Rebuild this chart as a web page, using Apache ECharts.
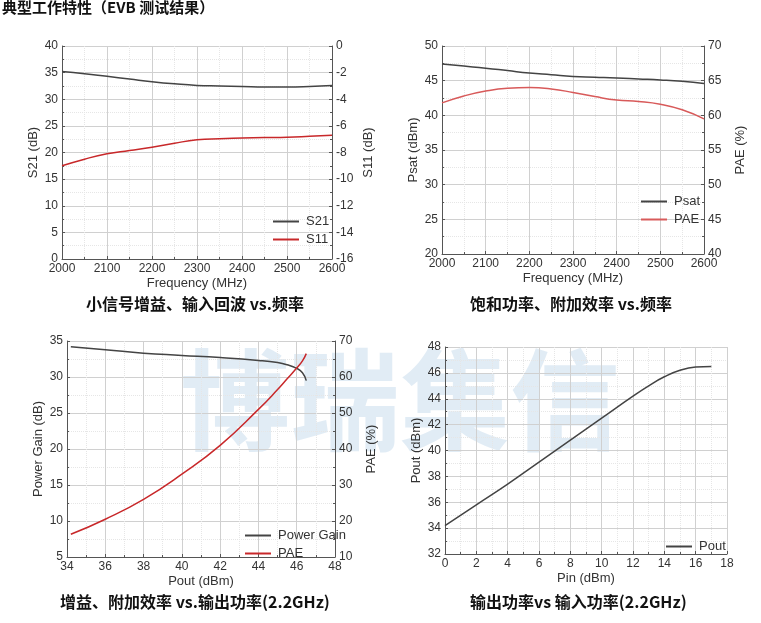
<!DOCTYPE html>
<html><head><meta charset="utf-8">
<script src="https://cdn.jsdelivr.net/npm/echarts@6/dist/echarts.min.js"></script>
<style>html,body{margin:0;background:#fff}#main{width:761px;height:623px}</style>
</head><body><div id="main"></div>
<script>
// panel 1: small signal
var freq = [2000, 2050, 2100, 2150, 2200, 2250, 2300, 2350, 2400, 2450, 2500, 2550, 2600];
var s21 = [35.2, 34.8, 34.3, 33.8, 33.3, 32.9, 32.6, 32.5, 32.4, 32.3, 32.3, 32.4, 32.6];
var s11 = [-9.0, -8.5, -8.1, -7.85, -7.6, -7.3, -7.05, -6.96, -6.92, -6.88, -6.85, -6.78, -6.7];
// panel 2: saturation
var psat = [47.4, 47.1, 46.8, 46.45, 46.1, 45.85, 45.6, 45.5, 45.4, 45.25, 45.1, 44.9, 44.6];
var pae1 = [61.8, 62.8, 63.5, 63.9, 64.0, 63.8, 63.3, 62.7, 62.2, 62.0, 61.6, 60.8, 59.5];
// panel 3: vs output power
var pout3 = [34.2, 36, 38, 40, 42, 44, 45, 45.5, 46, 46.3, 46.5];
var gain3 = [34.2, 33.8, 33.3, 33.0, 32.7, 32.3, 32.0, 31.7, 31.2, 30.6, 29.5];
var pae3 = [16.3, 20.5, 26, 33, 41, 51, 56.5, 59.5, 62.5, 64.5, 66.5];
// panel 4: Pout vs Pin
var pin4 = [0, 2, 4, 6, 8, 10, 12, 13, 14, 15, 16, 17];
var pout4 = [34.2, 35.8, 37.4, 39.1, 40.8, 42.5, 44.2, 45.0, 45.7, 46.2, 46.45, 46.5];

function zip(a, b) { return a.map(function (v, i) { return [v, b[i]]; }); }

var F = 'Liberation Sans, Arial, sans-serif';
var BLACK = '#444', RED = '#c8282a', RED2 = '#d85a5a';
var lbl = { color: '#333', fontSize: 12, fontFamily: F, formatter: function (v) { return String(v); } };
var nameSty = { color: '#333', fontSize: 13, fontFamily: F };
var axLine = { lineStyle: { color: '#555' } };
var split = { show: true, lineStyle: { color: '#d0d0d0', type: 'solid' } };
var msplit = { show: true, lineStyle: { color: '#e6e6e6', type: 'dotted' } };

function xa(g, min, max, iv, name) {
  return { type: 'value', gridIndex: g, min: min, max: max, interval: iv, name: name,
    nameLocation: 'middle', nameGap: 18, nameTextStyle: nameSty, axisLabel: Object.assign({ margin: 4 }, lbl),
    axisLine: axLine, axisTick: { inside: true, length: 3 }, minorTick: { show: true, splitNumber: 2, length: 2 },
    splitLine: split, minorSplitLine: msplit };
}
function ya(g, min, max, iv, name, pos) {
  return { type: 'value', gridIndex: g, min: min, max: max, interval: iv, name: name, position: pos,
    nameLocation: 'middle', nameGap: pos === 'right' ? 30 : 22, nameTextStyle: nameSty,
    axisLabel: Object.assign({ margin: 4 }, lbl), axisLine: { show: true, lineStyle: { color: '#555' } },
    axisTick: { inside: true, length: 3 }, minorTick: { show: true, splitNumber: 2, length: 2 },
    splitLine: pos === 'right' ? { show: false } : split, minorSplitLine: pos === 'right' ? { show: false } : msplit };
}
function ln(name, x, y, data, color) {
  return { name: name, type: 'line', xAxisIndex: x, yAxisIndex: y, data: data, smooth: true,
    showSymbol: false, lineStyle: { color: color, width: 1.5 }, itemStyle: { color: color } };
}
function lg(names, left, top) {
  return { data: names, left: left, top: top, orient: 'vertical', itemWidth: 26, itemHeight: 2, itemGap: 5,
    icon: 'rect', textStyle: { color: '#333', fontSize: 13, fontFamily: F, padding: [0, 0, 0, 2] } };
}
function cap(text, x, y, size) {
  return { type: 'text', left: x, top: y, style: { text: text, fill: '#111', font: 'bold ' + size + 'px "Noto Sans CJK SC", serif' } };
}

var chart = echarts.init(document.getElementById('main'));
chart.setOption({
  animation: false,
  grid: [
    { left: 62, top: 46, width: 270, height: 213 },
    { left: 442, top: 46, width: 262, height: 208 },
    { left: 67, top: 341, width: 268, height: 216 },
    { left: 445, top: 347, width: 282, height: 207 }
  ],
  xAxis: [
    xa(0, 2000, 2600, 100, 'Frequency (MHz)'),
    xa(1, 2000, 2600, 100, 'Frequency (MHz)'),
    xa(2, 34, 48, 2, 'Pout (dBm)'),
    xa(3, 0, 18, 2, 'Pin (dBm)')
  ],
  yAxis: [
    ya(0, 0, 40, 5, 'S21 (dB)', 'left'),
    ya(0, -16, 0, 2, 'S11 (dB)', 'right'),
    ya(1, 20, 50, 5, 'Psat (dBm)', 'left'),
    ya(1, 40, 70, 5, 'PAE (%)', 'right'),
    ya(2, 5, 35, 5, 'Power Gain (dB)', 'left'),
    ya(2, 10, 70, 10, 'PAE (%)', 'right'),
    ya(3, 32, 48, 2, 'Pout (dBm)', 'left')
  ],
  legend: [
    lg(['S21', 'S11'], 268, 210),
    lg(['Psat', 'PAE'], 636, 190),
    lg(['Power Gain', 'PAE '], 240, 524),
    lg(['Pout'], 661, 535)
  ],
  series: [
    ln('S21', 0, 0, zip(freq, s21), BLACK),
    ln('S11', 0, 1, zip(freq, s11), RED),
    ln('Psat', 1, 2, zip(freq, psat), BLACK),
    ln('PAE', 1, 3, zip(freq, pae1), RED2),
    ln('Power Gain', 2, 4, zip(pout3, gain3), BLACK),
    ln('PAE ', 2, 5, zip(pout3, pae3), RED),
    ln('Pout', 3, 6, zip(pin4, pout4), BLACK)
  ],
  graphic: [
    { type: 'text', left: 180, top: 345, z: -1, style: { text: '博瑞集信', fill: 'rgba(120,170,210,0.22)', font: 'bold 110px "Noto Sans CJK SC"' } },
    cap('典型工作特性（EVB 测试结果）', 2, 0, 15),
    cap('小信号增益、输入回波 vs.频率', 86, 296, 16),
    cap('饱和功率、附加效率 vs.频率', 470, 296, 16),
    cap('增益、附加效率 vs.输出功率(2.2GHz)', 60, 594, 16),
    cap('输出功率vs 输入功率(2.2GHz)', 470, 594, 16)
  ]
});
</script></body></html>
